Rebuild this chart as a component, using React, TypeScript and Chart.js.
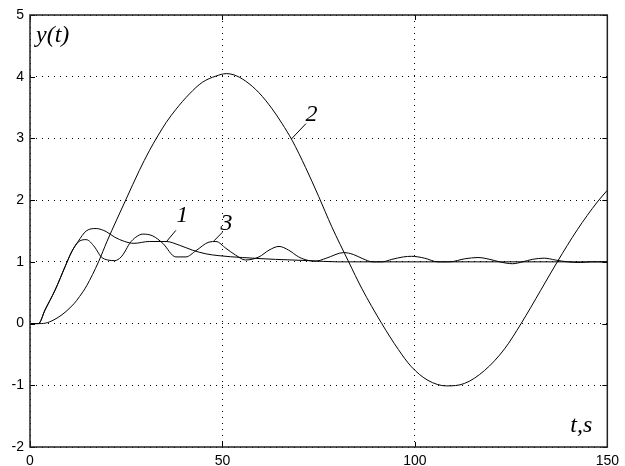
import React, { useEffect, useRef } from "react";
import { Chart, registerables } from "chart.js";

Chart.register(...registerables);

// Curve 1
const t1 = [0, 2.2, 3.9, 6.5, 9.1, 10.8, 12.5, 14.6, 17.2, 19.8, 22, 24.6, 27, 31, 35.4, 38.8, 42.2, 45.7, 49.1, 55.2, 63.8, 72.4, 80, 90, 150];
const y1 = [0, 0, 0.22, 0.54, 0.92, 1.16, 1.33, 1.5, 1.54, 1.49, 1.4, 1.33, 1.3, 1.33, 1.33, 1.27, 1.19, 1.13, 1.1, 1.07, 1.04, 1.02, 1.0, 1.0, 1.0];

// Curve 2
const t2 = [0, 3, 7.3, 11.4, 12.9, 14.7, 17.8, 20, 22.5, 25, 28.4, 31, 33.2, 35.4, 37.9, 41.4, 44.8, 48.3, 51, 53, 56, 59.5, 62.9, 65.5, 68.1, 71.6, 75, 78.4, 82.8, 86.2, 91.4, 95.7, 99.1, 103.4, 108.2, 112.9, 118.1, 123.3, 127.6, 132.7, 137, 142.2, 147.4, 150];
const y2 = [0, 0, 0.1, 0.32, 0.44, 0.61, 1.0, 1.33, 1.68, 2.02, 2.48, 2.8, 3.04, 3.26, 3.47, 3.72, 3.91, 4.01, 4.05, 4.03, 3.93, 3.74, 3.48, 3.24, 2.97, 2.53, 2.06, 1.57, 1.0, 0.57, 0.0, -0.42, -0.7, -0.92, -1.01, -0.97, -0.76, -0.41, 0.0, 0.54, 1.0, 1.52, 1.97, 2.16];

// Curve 3
const t3 = [0, 2.2, 3.9, 6.5, 9.1, 10.8, 12.5, 14.6, 16.8, 18.5, 20.2, 22, 23.7, 24.6, 25.9, 27.5, 29.3, 31.9, 34.5, 37.9, 40.5, 43.1, 46.5, 48.3, 50.9, 53.4, 56, 59.5, 62.1, 64.7, 67.2, 69.8, 72.5, 74.1, 77, 81.5, 84, 86.5, 89, 91.5, 94, 97, 99.1, 102.5, 106, 109, 113, 116.4, 119.5, 122, 125.4, 128, 130.5, 133.6, 136.5, 139.6, 143, 146, 150];
const y3 = [0, 0, 0.22, 0.54, 0.92, 1.16, 1.32, 1.36, 1.24, 1.08, 1.03, 1.02, 1.08, 1.16, 1.3, 1.4, 1.45, 1.42, 1.3, 1.08, 1.08, 1.18, 1.32, 1.33, 1.22, 1.11, 1.03, 1.08, 1.19, 1.25, 1.19, 1.08, 1.02, 1.01, 1.06, 1.15, 1.12, 1.05, 1.0, 1.0, 1.04, 1.08, 1.09, 1.06, 1.0, 1.0, 1.05, 1.07, 1.04, 1.0, 0.97, 1.0, 1.04, 1.06, 1.03, 1.0, 0.99, 1.0, 1.0];

const xTicks = [0, 50, 100, 150];
const yTicks = [-2, -1, 0, 1, 2, 3, 4, 5];

const curveLabels = [
  { text: "1", t: 38.0, y: 1.64, fromT: 37.9, fromY: 1.51, toT: 35.35, toY: 1.32 },
  { text: "2", t: 71.6, y: 3.28, fromT: 71.7, fromY: 3.24, toT: 67.9, toY: 2.99 },
  { text: "3", t: 49.5, y: 1.51, fromT: 50.0, fromY: 1.48, toT: 47.8, toY: 1.34 },
];

const toPoints = (ts: number[], ys: number[]) => ts.map((t, i) => ({ x: t, y: ys[i] }));

const overlayPlugin = {
  id: "overlay",
  afterDatasetsDraw(chart: any) {
    const { ctx, chartArea, scales } = chart;
    const { left, right, top, bottom } = chartArea;
    const xs = scales.x;
    const ys = scales.y;
    ctx.save();
    ctx.strokeStyle = "#000";
    ctx.lineWidth = 1;
    ctx.beginPath();
    for (const v of xTicks) {
      const px = Math.round(xs.getPixelForValue(v)) + 0.5;
      ctx.moveTo(px, bottom);
      ctx.lineTo(px, bottom - 5);
      ctx.moveTo(px, top);
      ctx.lineTo(px, top + 5);
    }
    for (const v of yTicks) {
      const py = Math.round(ys.getPixelForValue(v)) + 0.5;
      ctx.moveTo(left, py);
      ctx.lineTo(left + 5, py);
      ctx.moveTo(right, py);
      ctx.lineTo(right - 5, py);
    }
    ctx.stroke();

    ctx.lineWidth = 1.5;
    ctx.strokeStyle = "#222";
    ctx.strokeRect(left, top, right - left, bottom - top);

    // curve labels with leaders
    ctx.fillStyle = "#000";
    ctx.strokeStyle = "#000";
    ctx.lineWidth = 1;
    ctx.font = 'italic 24px "Liberation Serif"';
    ctx.textAlign = "left";
    ctx.textBaseline = "alphabetic";
    for (const l of curveLabels) {
      ctx.fillText(l.text, xs.getPixelForValue(l.t), ys.getPixelForValue(l.y));
      ctx.beginPath();
      ctx.moveTo(xs.getPixelForValue(l.fromT), ys.getPixelForValue(l.fromY));
      ctx.lineTo(xs.getPixelForValue(l.toT), ys.getPixelForValue(l.toY));
      ctx.stroke();
    }

    // axis titles inside the plot
    ctx.fillText("y(t)", left + 6, top + 27);
    ctx.textAlign = "right";
    ctx.fillText("t,s", right - 15, bottom - 15);
    ctx.restore();
  },
};

export default function App() {
  const canvasRef = useRef<HTMLCanvasElement | null>(null);

  useEffect(() => {
    document.body.style.margin = "0";
    const canvas = canvasRef.current;
    if (!canvas) return;
    const lineStyle = {
      borderColor: "#000",
      borderWidth: 1,
      pointRadius: 0,
      fill: false,
      cubicInterpolationMode: "monotone" as const,
    };
    const tickFont = { family: '"Liberation Sans", Arial, sans-serif', size: 14 };
    const chart = new Chart(canvas, {
      type: "line",
      data: {
        datasets: [
          { label: "1", data: toPoints(t1, y1), ...lineStyle },
          { label: "2", data: toPoints(t2, y2), ...lineStyle },
          { label: "3", data: toPoints(t3, y3), ...lineStyle },
        ],
      },
      options: {
        animation: false,
        responsive: false,
        maintainAspectRatio: false,
        layout: { padding: { top: 15, right: 15, left: 0, bottom: 0 } },
        plugins: { legend: { display: false }, tooltip: { enabled: false } },
        scales: {
          x: {
            type: "linear",
            min: 0,
            max: 150,
            afterBuildTicks: (scale: any) => {
              scale.ticks = xTicks.map((v) => ({ value: v }));
            },
            afterFit: (scale: any) => {
              scale.height = 19;
            },
            ticks: { color: "#000", font: tickFont, padding: 6, maxRotation: 0, autoSkip: false },
            grid: { color: "#000", lineWidth: 1, drawTicks: false },
            border: { display: false, dash: [1, 5] },
          },
          y: {
            type: "linear",
            min: -2,
            max: 5,
            afterBuildTicks: (scale: any) => {
              scale.ticks = yTicks.map((v) => ({ value: v }));
            },
            afterFit: (scale: any) => {
              scale.width = 30;
            },
            ticks: { color: "#000", font: tickFont, padding: 6, autoSkip: false },
            grid: { color: "#000", lineWidth: 1, drawTicks: false },
            border: { display: false, dash: [1, 5] },
          },
        },
      },
      plugins: [overlayPlugin],
    });
    return () => chart.destroy();
  }, []);

  return (
    <div style={{ width: 625, height: 466, background: "#fff" }}>
      <canvas ref={canvasRef} width={625} height={466} style={{ display: "block" }} />
    </div>
  );
}
